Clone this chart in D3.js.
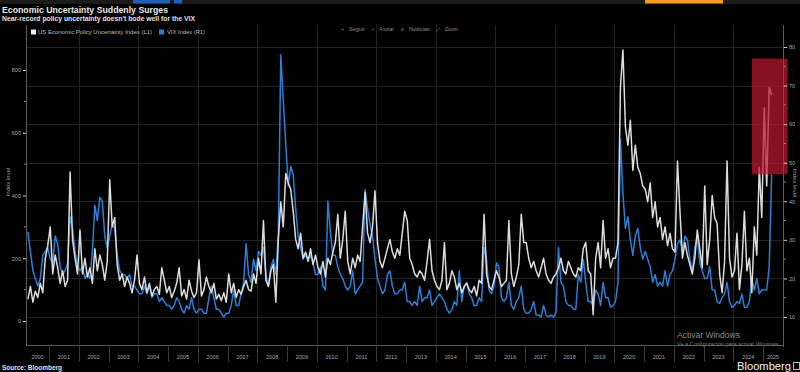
<!DOCTYPE html>
<html lang="en">
<head>
<meta charset="UTF-8" />
<title>Economic Uncertainty Suddenly Surges</title>
<script src="https://d3js.org/d3.v7.min.js"></script>
<style>
  body { margin: 0; background: #000; }
  svg { display: block; font-family: "Liberation Sans", Arial, sans-serif; }
</style>
</head>
<body>
<svg id="chart" width="800" height="372"></svg>
<script>
  // monthly values, April 2000 -> April 2025
  const firstYear = 2000, firstMonth = 4;

  // US Economic Policy Uncertainty Index (left axis)
  const epu = [
    70, 110, 60, 95, 75, 120, 90, 200, 240,                 // 2000
    300, 150, 210, 170, 120, 160, 110, 130, 475, 260, 200, 150,
    290, 150, 200, 140, 170, 120, 230, 160, 210, 180, 130, 190,
    450, 300, 330, 180, 130, 150, 110, 140, 120, 90, 130, 210,
    120, 100, 140, 90, 120, 80, 100, 110, 85, 170, 130, 90,
    110, 75, 95, 120, 170, 80, 100, 70, 130, 95, 75, 90,     // 2005
    195, 80, 100, 140, 110, 90, 120, 70, 85, 65, 90, 60,
    150, 90, 120, 75, 100, 85, 110, 130, 100, 95, 150, 120,
    200, 150, 320, 130, 110, 160, 180, 60, 260, 380, 300, 470,
    440, 420, 350, 260, 230, 280, 200, 220, 190, 230, 180, 210,
    170, 150, 190, 140, 200, 180, 220, 250, 340, 200, 260, 350, // 2010
    190, 150, 200, 170, 210, 190, 300, 410, 280, 250, 300, 415,
    250, 190, 170, 200, 230, 260, 220, 200, 230, 210, 280, 350,
    320, 200, 180, 150, 140, 160, 150, 130, 190, 260, 160, 130,
    110, 100, 130, 250, 100, 120, 160, 140, 100, 120, 90, 110,
    120, 100, 90, 110, 80, 130, 120, 340, 150, 110, 100, 130,   // 2015
    160, 140, 110, 120, 130, 320, 150, 110, 140, 180, 340, 250,
    250, 200, 170, 190, 160, 140, 170, 200, 150, 130, 120, 140,
    150, 170, 200, 160, 150, 190, 170, 150, 140, 170, 160, 230,
    250, 160, 150, 20, 200, 250, 170, 320, 200, 230, 170, 200,
    200, 250, 745, 864, 620, 560, 640, 480, 560, 490, 470, 430, // 2020
    420, 380, 440, 330, 380, 300, 330, 260, 300, 240, 280, 230,
    220, 510, 350, 200, 250, 210, 180, 150, 200, 290, 230, 170,
    430, 180, 260, 400, 330, 310, 150, 90, 190, 510, 200, 140,
    160, 280, 100, 180, 350, 160, 200, 90, 300, 210, 490, 330,
    680, 430, 745, 720                                        // 2025
  ];

  // VIX Index (right axis)
  const vix = [
    32, 27, 22, 20, 18, 20, 26, 27, 28,                       // 2000
    25, 24, 31, 29, 23, 21, 22, 24, 36, 33, 27, 23,
    22, 23, 20, 21, 20, 27, 39, 35, 41, 40, 31, 28,
    31, 34, 33, 26, 22, 21, 21, 20, 21, 18, 18, 17,
    16, 16, 18, 16, 18, 15, 16, 16, 14, 15, 14, 13,
    13, 12, 13, 15, 14, 12, 11, 13, 12, 15, 12, 11,           // 2005
    12, 12, 11, 11, 15, 18, 15, 12, 12, 11, 10, 11,
    11, 13, 17, 13, 13, 16, 19, 29, 21, 19, 25, 22,
    27, 26, 28, 21, 18, 23, 25, 21, 32, 78, 66, 55,
    44, 49, 47, 38, 31, 28, 25, 26, 25, 26, 24, 21,
    21, 23, 18, 17, 40, 32, 26, 26, 23, 21, 20, 18,           // 2010
    17, 18, 22, 16, 17, 18, 19, 43, 38, 34, 31, 25,
    20, 18, 16, 17, 21, 22, 18, 16, 16, 17, 17, 19,
    14, 14, 13, 14, 13, 18, 14, 15, 15, 17, 13, 14,
    15, 16, 15, 14, 12, 11, 12, 14, 13, 22, 14, 18,
    19, 16, 15, 13, 13, 15, 14, 28, 25, 17, 16, 18,           // 2015
    24, 23, 15, 14, 15, 19, 13, 12, 14, 15, 18, 12,
    11, 11, 12, 14, 10.5, 10.5, 10, 13, 10.5, 10, 10.5, 10,
    11, 28, 19, 18, 14, 13, 13, 12, 12, 21, 19, 25,
    19, 14, 14, 13, 17, 16, 13, 19, 15, 15, 12.5, 13,
    14, 19, 56, 42, 33, 36, 30, 26, 31, 33, 28, 25,           // 2020
    27, 25, 23, 19, 21, 18, 19, 18, 22, 18, 21, 22,
    25, 29, 30, 27, 31, 30, 25, 22, 28, 31, 24, 22,
    20, 20, 23, 17, 17, 14, 13.5, 15, 16, 19, 14, 12.5,
    13, 14, 13.5, 16, 12.5, 12.5, 14, 20, 17, 20, 16, 17,
    17, 17, 23, 47                                            // 2025
  ];

  const years = d3.range(2000, 2026);
  const leftTicks = [0, 200, 400, 600, 800];
  const leftMinor = [100, 300, 500, 700];
  const rightTicks = [10, 20, 30, 40, 50, 60, 70, 80];
  const rightMinor = [15, 25, 35, 45, 55, 65, 75];
  const gridYears = d3.range(2002, 2025, 2);
  // highlighted region (years on x, VIX units on y)
  const highlight = { from: 2024.63, to: 2025.83, top: 77, bottom: 47 };

  const W = 800, H = 372;
  const plot = { left: 26, right: 783, top: 25, bottom: 345 };
  const svg = d3.select("#chart");

  const x = d3.scaleLinear().domain([2001, 2025]).range([49, 763]);
  const yL = d3.scaleLinear().domain([0, 800]).range([321, 70]);
  const yR = d3.scaleLinear().domain([10, 80]).range([317, 47]);

  const toT = i => firstYear + (firstMonth - 1 + i + 0.5) / 12;
  const epuData = epu.map((v, i) => ({ t: toT(i), v }));
  const vixData = vix.map((v, i) => ({ t: toT(i), v }));

  svg.append("rect").attr("width", W).attr("height", H).attr("fill", "#000");

  // terminal toolbar sliver at the very top
  svg.append("rect").attr("x", 0).attr("y", 0).attr("width", W).attr("height", 4).attr("fill", "#1b1b1b");
  svg.append("rect").attr("x", 133).attr("y", 0).attr("width", 37).attr("height", 3.5).attr("fill", "#1f5fb8");
  svg.append("rect").attr("x", 174).attr("y", 0).attr("width", 8).attr("height", 3.5).attr("fill", "#1f5fb8");
  svg.append("rect").attr("x", 645).attr("y", 0).attr("width", 78).attr("height", 3.5).attr("fill", "#f39c1f");

  // titles
  svg.append("text").attr("x", 2).attr("y", 13)
    .attr("font-size", 9.5).attr("font-weight", "bold").attr("fill", "#e8e8e8")
    .attr("textLength", 166).attr("lengthAdjust", "spacingAndGlyphs")
    .text("Economic Uncertainty Suddenly Surges");
  svg.append("text").attr("x", 2).attr("y", 20.5)
    .attr("font-size", 6.5).attr("font-weight", "bold").attr("fill", "#e0e0e0")
    .attr("textLength", 193).attr("lengthAdjust", "spacingAndGlyphs")
    .text("Near-record policy uncertainty doesn't bode well for the VIX");

  // gridlines
  const grid = svg.append("g").attr("stroke", "#222").attr("stroke-width", 1);
  grid.selectAll("line.h").data(rightTicks).join("line")
    .attr("x1", plot.left).attr("x2", plot.right)
    .attr("y1", d => Math.round(yR(d)) + 0.5).attr("y2", d => Math.round(yR(d)) + 0.5);
  grid.selectAll("line.v").data(gridYears).join("line")
    .attr("x1", d => Math.round(x(d)) + 0.5).attr("x2", d => Math.round(x(d)) + 0.5)
    .attr("y1", plot.top).attr("y2", plot.bottom);

  // series
  svg.append("clipPath").attr("id", "clip").append("rect")
    .attr("x", plot.left).attr("y", plot.top)
    .attr("width", plot.right - plot.left).attr("height", plot.bottom - plot.top);

  const series = svg.append("g").attr("clip-path", "url(#clip)");
  series.append("path").datum(vixData)
    .attr("fill", "none").attr("stroke", "#2a7fd6").attr("stroke-width", 1.5)
    .attr("stroke-linejoin", "round")
    .attr("d", d3.line().x(d => x(d.t)).y(d => yR(d.v)));
  series.append("path").datum(epuData)
    .attr("fill", "none").attr("stroke", "#dcdcdc").attr("stroke-width", 1.5)
    .attr("stroke-linejoin", "round")
    .attr("d", d3.line().x(d => x(d.t)).y(d => yL(d.v)));

  // red highlight box
  svg.append("rect")
    .attr("x", x(highlight.from)).attr("y", yR(highlight.top))
    .attr("width", x(highlight.to) - x(highlight.from))
    .attr("height", yR(highlight.bottom) - yR(highlight.top))
    .attr("fill", "#b8182f").attr("opacity", 0.72);

  // legend
  const legend = svg.append("g").attr("font-size", 6).attr("fill", "#bdbdbd");
  legend.append("rect").attr("x", 31).attr("y", 29.5).attr("width", 5).attr("height", 5).attr("fill", "#eeeeee");
  legend.append("text").attr("x", 38).attr("y", 34.2)
    .attr("textLength", 114).attr("lengthAdjust", "spacingAndGlyphs")
    .text("US Economic Policy Uncertainty Index (L1)");
  legend.append("rect").attr("x", 159).attr("y", 29.5).attr("width", 5).attr("height", 5).attr("fill", "#2a7fd6");
  legend.append("text").attr("x", 167).attr("y", 34.2)
    .attr("textLength", 38).attr("lengthAdjust", "spacingAndGlyphs")
    .text("VIX Index (R1)");

  // chart toolbar buttons
  const buttons = [
    { icon: "+", label: "Seguir", ix: 341, lx: 349, w: 16 },
    { icon: "\u2713", label: "Anotar", ix: 371, lx: 379, w: 15 },
    { icon: "\u2261", label: "Noticias", ix: 401, lx: 409, w: 21 },
    { icon: "\u2922", label: "Zoom", ix: 436, lx: 445, w: 13 }
  ];
  const tb = svg.append("g").attr("font-size", 5).attr("fill", "#8c8c8c");
  buttons.forEach(b => {
    tb.append("text").attr("x", b.ix).attr("y", 31).attr("font-size", 5).text(b.icon);
    tb.append("text").attr("x", b.lx).attr("y", 31)
      .attr("textLength", b.w).attr("lengthAdjust", "spacingAndGlyphs").text(b.label);
  });

  // axes
  const axisColor = "#5a5a5a";
  svg.append("line").attr("x1", plot.left + 0.5).attr("x2", plot.left + 0.5)
    .attr("y1", plot.top).attr("y2", plot.bottom).attr("stroke", axisColor);
  svg.append("line").attr("x1", plot.right + 0.5).attr("x2", plot.right + 0.5)
    .attr("y1", plot.top).attr("y2", plot.bottom + 2).attr("stroke", axisColor);
  svg.append("line").attr("x1", plot.left).attr("x2", plot.right)
    .attr("y1", plot.bottom + 0.5).attr("y2", plot.bottom + 0.5).attr("stroke", axisColor);

  const leftAxis = svg.append("g").attr("transform", `translate(${plot.left},0)`)
    .call(d3.axisLeft(yL).tickValues(leftTicks).tickSize(3).tickPadding(2));
  leftAxis.select(".domain").remove();
  leftAxis.selectAll("line").attr("stroke", "#cfcfcf");
  leftAxis.selectAll("text").attr("fill", "#a8a8a8").attr("font-size", 5.5)
    .attr("font-family", "Liberation Sans, Arial, sans-serif");
  svg.append("g").selectAll("line").data(leftMinor).join("line")
    .attr("x1", plot.left - 2).attr("x2", plot.left)
    .attr("y1", d => yL(d)).attr("y2", d => yL(d)).attr("stroke", "#8a8a8a");

  const rightAxis = svg.append("g").attr("transform", `translate(${plot.right + 1},0)`)
    .call(d3.axisRight(yR).tickValues(rightTicks).tickSize(3).tickPadding(2));
  rightAxis.select(".domain").remove();
  rightAxis.selectAll("line").attr("stroke", "#cfcfcf");
  rightAxis.selectAll("text").attr("fill", "#a8a8a8").attr("font-size", 5.5)
    .attr("font-family", "Liberation Sans, Arial, sans-serif");
  svg.append("g").selectAll("line").data(rightMinor).join("line")
    .attr("x1", plot.right + 1).attr("x2", plot.right + 3)
    .attr("y1", d => yR(d)).attr("y2", d => yR(d)).attr("stroke", "#8a8a8a");

  // axis titles
  svg.append("text").attr("transform", "translate(10,182) rotate(-90)")
    .attr("text-anchor", "middle").attr("font-size", 6).attr("fill", "#9a9a9a")
    .text("Index level");
  svg.append("text").attr("transform", "translate(793,183) rotate(90)")
    .attr("text-anchor", "middle").attr("font-size", 6).attr("fill", "#9a9a9a")
    .text("Index level");

  // year separators and labels
  const xAxis = svg.append("g");
  xAxis.selectAll("line").data(years.slice(1)).join("line")
    .attr("x1", d => Math.round(x(d)) + 0.5).attr("x2", d => Math.round(x(d)) + 0.5)
    .attr("y1", plot.bottom).attr("y2", plot.bottom + 17)
    .attr("stroke", "#3a3a3a");
  xAxis.selectAll("text").data(years).join("text")
    .attr("x", d => (Math.max(x(d), plot.left) + Math.min(x(d + 1), plot.right)) / 2)
    .attr("y", 359).attr("text-anchor", "middle")
    .attr("font-size", 5.5).attr("fill", "#a8a8a8")
    .text(d => d);

  // windows watermark
  svg.append("text").attr("x", 677).attr("y", 338)
    .attr("font-size", 8.5).attr("fill", "#8a8a8a")
    .attr("textLength", 63).attr("lengthAdjust", "spacingAndGlyphs")
    .text("Activar Windows");
  svg.append("text").attr("x", 677).attr("y", 346)
    .attr("font-size", 5).attr("fill", "#7a7a7a")
    .attr("textLength", 103).attr("lengthAdjust", "spacingAndGlyphs")
    .text("Ve a Configuración para activar Windows.");

  // footer
  svg.append("text").attr("x", 2).attr("y", 369.5)
    .attr("font-size", 6.5).attr("font-weight", "bold").attr("fill", "#e0e0e0")
    .attr("textLength", 60).attr("lengthAdjust", "spacingAndGlyphs")
    .text("Source: Bloomberg");
  svg.append("text").attr("x", 737).attr("y", 370)
    .attr("font-size", 10).attr("fill", "#f2f2f2")
    .attr("textLength", 54).attr("lengthAdjust", "spacingAndGlyphs")
    .text("Bloomberg");
  svg.append("rect").attr("x", 793.5).attr("y", 362.5).attr("width", 6).attr("height", 7)
    .attr("fill", "none").attr("stroke", "#bbbbbb");
</script>
</body>
</html>
